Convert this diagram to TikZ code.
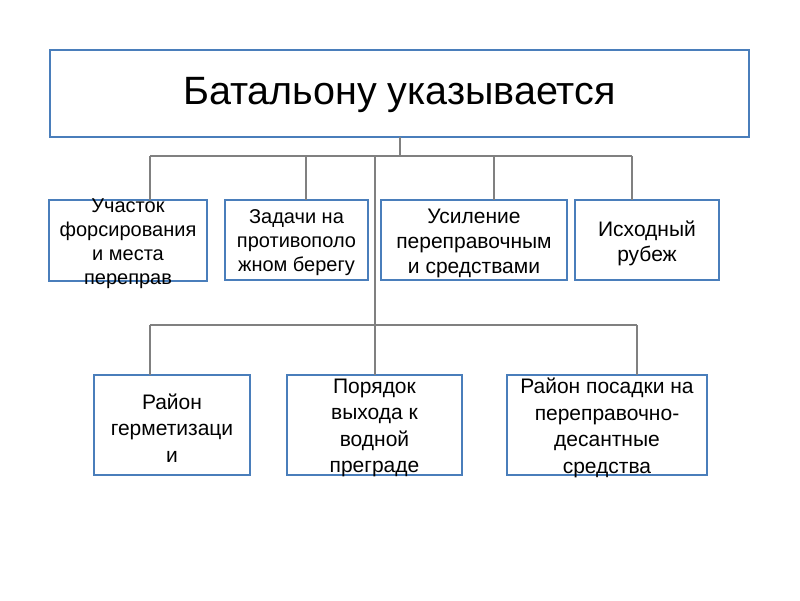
\documentclass[tikz,border=0pt]{standalone}
\usepackage{fontspec}
\setmainfont{Liberation Sans}
\begin{document}
\begin{tikzpicture}[x=1pt,y=-1pt,
  box/.style={draw=boxblue,line width=2.2pt,inner sep=0pt,outer sep=0pt},
  txt/.style={inner sep=0pt,align=center,text=black,yshift=-3pt},
  conn/.style={draw=conngray,line width=1.5pt},
  smallA/.style={font=\fontsize{20}{24}\selectfont},
  smallB/.style={font=\fontsize{21}{25}\selectfont},
  smallC/.style={font=\fontsize{21}{26.5}\selectfont}]
\definecolor{boxblue}{RGB}{74,126,187}
\definecolor{conngray}{RGB}{128,128,128}
\useasboundingbox[fill=white] (0,0) rectangle (800,600);
% boxes
\node[box,minimum width=699pt,minimum height=87pt] (top) at (399.5,93.5) {};
\node[box,minimum width=158pt,minimum height=81pt] (b1) at (128,240.5) {};
\node[box,minimum width=143pt,minimum height=80pt] (b2) at (296.5,240) {};
\node[box,minimum width=186pt,minimum height=80pt] (b3) at (474,240) {};
\node[box,minimum width=144pt,minimum height=80pt] (b4) at (647,240) {};
\node[box,minimum width=156pt,minimum height=100pt] (b5) at (172,425) {};
\node[box,minimum width=175pt,minimum height=100pt] (b6) at (374.5,425) {};
\node[box,minimum width=200pt,minimum height=100pt] (b7) at (607,425) {};
% texts
\node[txt,yshift=1pt,font=\fontsize{39.5}{47}\selectfont] (t0) at (top) {Батальону указывается};
\node[txt,smallA] (t1) at (b1) {Участок\\форсирования\\и места\\переправ};
\node[txt,smallA] (t2) at (b2) {Задачи на\\противополо\\жном берегу};
\node[txt,smallB] (t3) at (b3) {Усиление\\переправочным\\и средствами};
\node[txt,smallB] (t4) at (b4) {Исходный\\рубеж};
\node[txt,smallC] (t5) at (b5) {Район\\герметизаци\\и};
\node[txt,smallC] (t6) at (b6) {Порядок\\выхода к\\водной\\преграде};
\node[txt,smallC] (t7) at (b7) {Район посадки на\\переправочно-\\десантные\\средства};
% connector points
\coordinate (hub) at (400,156);
\coordinate (l1) at (150,156);
\coordinate (d2) at (306,156);
\coordinate (mid) at (375,156);
\coordinate (d3) at (494,156);
\coordinate (r1) at (632,156);
\coordinate (hub2) at (375,325);
\coordinate (l2) at (150,325);
\coordinate (r2) at (637,325);
% connectors
\draw[conn] (top.south -| hub) -- (hub);
\draw[conn] (l1) -- (r1);
\draw[conn] (l1) -- (l1 |- b1.north);
\draw[conn] (d2) -- (d2 |- b2.north);
\draw[conn] (d3) -- (d3 |- b3.north);
\draw[conn] (r1) -- (r1 |- b4.north);
\draw[conn] (mid) -- (hub2);
\draw[conn] (l2) -- (r2);
\draw[conn] (l2) -- (l2 |- b5.north);
\draw[conn] (hub2) -- (hub2 |- b6.north);
\draw[conn] (r2) -- (r2 |- b7.north);
\end{tikzpicture}
\end{document}
